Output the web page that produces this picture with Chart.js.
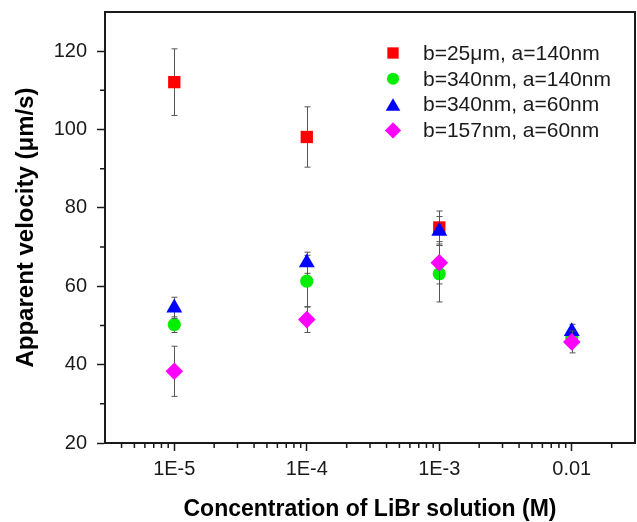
<!DOCTYPE html>
<html>
<head>
<meta charset="utf-8">
<script src="https://cdn.jsdelivr.net/npm/chart.js@4.4.0/dist/chart.umd.min.js"></script>
<style>
  html, body { margin: 0; padding: 0; background: #fff; }
  #wrap { width: 637px; height: 522px; }
</style>
</head>
<body>
<div id="wrap"><canvas id="velocityChart" width="637" height="522"></canvas></div>
<script>
// LiBr concentration (M)
const concentrations = [1e-5, 1e-4, 1e-3, 1e-2];
const xTickLabels = ["1E-5", "1E-4", "1E-3", "0.01"];
const yTickValues = [20, 40, 60, 80, 100, 120];

const seriesLabels = [
  "b=25\u03bcm, a=140nm",
  "b=340nm, a=140nm",
  "b=340nm, a=60nm",
  "b=157nm, a=60nm",
];

// apparent velocity (um/s) with error bars
const velB25A140 = [112.1, 98.1, 75.0, null];
const errB25A140 = [8.5, 7.7, 4.2, null];
const velB340A140 = [50.2, 61.3, 63.2, 46.9];
const errB340A140 = [2.0, 6.6, 7.2, 2.0];
const velB340A60 = [54.5, 66.0, 74.1, 48.5];
const errB340A60 = [2.7, 2.7, 3.7, 1.8];
const velB157A60 = [38.3, 51.5, 66.0, 45.8];
const errB157A60 = [6.4, 3.3, 5.4, 2.8];

const FONT = "'Liberation Sans', Arial, sans-serif";
const INK = "#1a1a1a";

const seriesStyles = [
  { color: "#ff0000", pointStyle: "rect", radius: 8.7 },
  { color: "#00ee00", pointStyle: "circle", radius: 6.6 },
  { color: "#0000ff", pointStyle: "triangle", radius: 9.2 },
  { color: "#ff00ff", pointStyle: "rectRot", radius: 8.8 },
];
const seriesValues = [velB25A140, velB340A140, velB340A60, velB157A60];
const seriesErrors = [errB25A140, errB340A140, errB340A60, errB157A60];

const toPoints = (vals) =>
  concentrations
    .map((c, i) => ({ x: c, y: vals[i] }))
    .filter((p) => p.y !== null);

// hand-drawn marker for the legend box
function markerPath(ctx, style, x, y, r) {
  ctx.beginPath();
  if (style === "rect") {
    const s = r * Math.SQRT1_2;
    ctx.rect(x - s, y - s, 2 * s, 2 * s);
  } else if (style === "circle") {
    ctx.arc(x, y, r, 0, Math.PI * 2);
  } else if (style === "triangle") {
    ctx.moveTo(x, y - r);
    ctx.lineTo(x + r * 0.866, y + r / 2);
    ctx.lineTo(x - r * 0.866, y + r / 2);
    ctx.closePath();
  } else {
    ctx.moveTo(x - r, y);
    ctx.lineTo(x, y - r);
    ctx.lineTo(x + r, y);
    ctx.lineTo(x, y + r);
    ctx.closePath();
  }
}

// error bars, drawn just before each series' markers
const errorBars = {
  id: "errorBars",
  beforeDatasetDraw(chart, args) {
    const errs = seriesErrors[args.index];
    const vals = seriesValues[args.index];
    const { ctx } = chart;
    const xs = chart.scales.x;
    const ys = chart.scales.y;
    ctx.save();
    ctx.strokeStyle = "#555";
    ctx.lineWidth = 1;
    concentrations.forEach((c, i) => {
      if (vals[i] === null || !errs[i]) return;
      const px = Math.round(xs.getPixelForValue(c)) + 0.5;
      const top = ys.getPixelForValue(vals[i] + errs[i]);
      const bot = ys.getPixelForValue(vals[i] - errs[i]);
      ctx.beginPath();
      ctx.moveTo(px, top);
      ctx.lineTo(px, bot);
      ctx.moveTo(px - 3, top);
      ctx.lineTo(px + 3, top);
      ctx.moveTo(px - 3, bot);
      ctx.lineTo(px + 3, bot);
      ctx.stroke();
    });
    ctx.restore();
  },
};

// frame, minor ticks and the legend box
const frameAndLegend = {
  id: "frameAndLegend",
  afterDraw(chart) {
    const { ctx, chartArea: a } = chart;
    const xs = chart.scales.x;
    const ys = chart.scales.y;
    ctx.save();
    ctx.strokeStyle = INK;
    ctx.lineWidth = 2;
    ctx.strokeRect(a.left, a.top, a.right - a.left, a.bottom - a.top);

    ctx.lineWidth = 1.5;
    ctx.beginPath();
    for (let v = 30; v < 130; v += 20) {
      const py = ys.getPixelForValue(v);
      ctx.moveTo(a.left - 5, py);
      ctx.lineTo(a.left, py);
    }
    for (let e = -6; e <= -2; e++) {
      for (let m = 2; m <= 9; m++) {
        const v = m * Math.pow(10, e);
        if (v <= xs.min * 1.001 || v >= xs.max * 0.999) continue;
        const px = xs.getPixelForValue(v);
        ctx.moveTo(px, a.bottom);
        ctx.lineTo(px, a.bottom + 5);
      }
    }
    ctx.stroke();

    ctx.font = "21px " + FONT;
    ctx.textBaseline = "middle";
    ctx.textAlign = "left";
    seriesLabels.forEach((label, i) => {
      const st = seriesStyles[i];
      const y = 53 + i * 25.8;
      ctx.fillStyle = st.color;
      markerPath(ctx, st.pointStyle, 393, st.pointStyle === "triangle" ? y + 2 : y, st.radius * 0.92);
      ctx.fill();
      ctx.fillStyle = INK;
      ctx.fillText(label, 423, y + 1);
    });
    ctx.restore();
  },
};

const datasets = seriesValues.map((vals, i) => ({
  label: seriesLabels[i],
  data: toPoints(vals),
  pointStyle: seriesStyles[i].pointStyle,
  pointRadius: seriesStyles[i].radius,
  pointHoverRadius: seriesStyles[i].radius,
  backgroundColor: seriesStyles[i].color,
  borderColor: seriesStyles[i].color,
  borderWidth: 0,
  showLine: false,
  order: 4 - i,
}));

new Chart(document.getElementById("velocityChart"), {
  type: "scatter",
  data: { datasets },
  options: {
    responsive: false,
    animation: false,
    layout: {
      autoPadding: false,
      padding: { top: 12, right: 2, left: 0, bottom: 0 },
    },
    plugins: {
      legend: { display: false },
      tooltip: { enabled: false },
    },
    scales: {
      x: {
        type: "logarithmic",
        position: "bottom",
        min: 3e-6,
        max: 0.03,
        afterBuildTicks: (s) => {
          s.ticks = concentrations.map((v) => ({ value: v }));
        },
        afterFit: (s) => {
          s.height = 79;
          s.paddingLeft = 0;
          s.paddingRight = 0;
        },
        border: { color: INK, width: 2 },
        grid: {
          drawOnChartArea: false,
          drawTicks: true,
          tickLength: 8,
          tickWidth: 1.5,
          tickColor: INK,
        },
        ticks: {
          autoSkip: false,
          maxRotation: 0,
          padding: 6,
          color: INK,
          font: { family: FONT, size: 20 },
          callback: (value, index) => xTickLabels[index],
        },
        title: {
          display: true,
          text: "Concentration of LiBr solution (M)",
          color: "#000",
          font: { family: FONT, size: 23, weight: "bold", lineHeight: 1 },
          padding: { top: 0, bottom: 1 },
        },
      },
      y: {
        type: "linear",
        min: 20,
        max: 130,
        afterBuildTicks: (s) => {
          s.ticks = yTickValues.map((v) => ({ value: v }));
        },
        afterFit: (s) => {
          s.width = 105;
          s.paddingTop = 0;
          s.paddingBottom = 0;
        },
        border: { color: INK, width: 2 },
        grid: {
          drawOnChartArea: false,
          drawTicks: true,
          tickLength: 8,
          tickWidth: 1.5,
          tickColor: INK,
        },
        ticks: {
          padding: 10,
          color: INK,
          font: { family: FONT, size: 20 },
        },
        title: {
          display: true,
          text: "Apparent velocity (\u03bcm/s)",
          color: "#000",
          font: { family: FONT, size: 24, weight: "bold", lineHeight: 1 },
          padding: { top: 14, bottom: 0 },
        },
      },
    },
  },
  plugins: [errorBars, frameAndLegend],
});
</script>
</body>
</html>
